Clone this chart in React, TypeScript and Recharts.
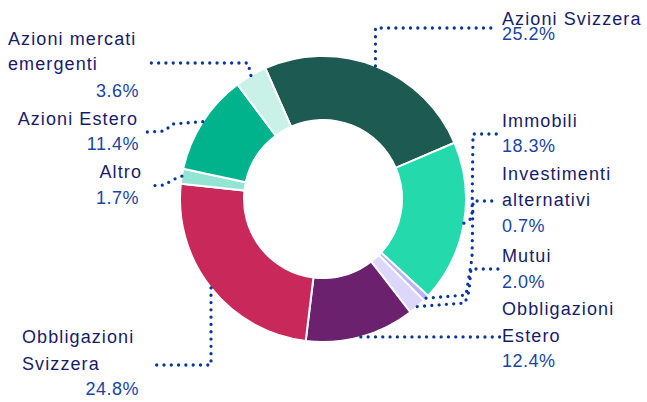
import React from 'react';
import { Cell, Pie, PieChart } from 'recharts';

// Portfolio allocation, clockwise from "Azioni Svizzera"
const categories = [
  'Azioni Svizzera',
  'Immobili',
  'Investimenti alternativi',
  'Mutui',
  'Obbligazioni Estero',
  'Obbligazioni Svizzera',
  'Altro',
  'Azioni Estero',
  'Azioni mercati emergenti',
];
const shares = [25.2, 18.3, 0.7, 2.0, 12.4, 24.8, 1.7, 11.4, 3.6];
const nameLines = [
  ['Azioni Svizzera'],
  ['Immobili'],
  ['Investimenti', 'alternativi'],
  ['Mutui'],
  ['Obbligazioni', 'Estero'],
  ['Obbligazioni', 'Svizzera'],
  ['Altro'],
  ['Azioni Estero'],
  ['Azioni mercati', 'emergenti'],
];
const colors = ['#1d5b52', '#24d9ab', '#b8b4f6', '#ddd8fb', '#6b216e', '#c8285a', '#93e4d3', '#00b38d', '#c9f1e8'];

const data = categories.map((name, i) => ({ name, value: shares[i] }));

// label placement: leader line bends (null x = keep the slice x), text lines
type Pt = [number | null, number];
interface LabelLayout {
  path: Pt[];
  lines: { x: number; y: number; anchor: 'start' | 'end' }[];
  pct: { x: number; y: number; anchor: 'start' | 'end' };
}
const layouts: LabelLayout[] = [
  { path: [[null, 28], [498, 28]], lines: [{ x: 502, y: 25, anchor: 'start' }], pct: { x: 502, y: 40, anchor: 'start' } },
  { path: [[472, 218], [473, 134], [500, 134]], lines: [{ x: 502, y: 127, anchor: 'start' }], pct: { x: 502, y: 152, anchor: 'start' } },
  {
    path: [[466, 295], [472, 258], [473, 201], [498, 201]],
    lines: [{ x: 502, y: 180, anchor: 'start' }, { x: 502, y: 206, anchor: 'start' }],
    pct: { x: 502, y: 232, anchor: 'start' },
  },
  { path: [[465, 303], [469, 291], [471, 269], [500, 269]], lines: [{ x: 502, y: 262, anchor: 'start' }], pct: { x: 502, y: 288, anchor: 'start' } },
  {
    path: [[500, 337]],
    lines: [{ x: 502, y: 315, anchor: 'start' }, { x: 502, y: 342, anchor: 'start' }],
    pct: { x: 502, y: 367, anchor: 'start' },
  },
  {
    path: [[null, 365], [151, 365]],
    lines: [{ x: 22, y: 343, anchor: 'start' }, { x: 22, y: 370, anchor: 'start' }],
    pct: { x: 139, y: 395, anchor: 'end' },
  },
  { path: [[172, 180], [165, 185], [148, 186]], lines: [{ x: 142, y: 178, anchor: 'end' }], pct: { x: 139, y: 204, anchor: 'end' } },
  { path: [[172, 124], [165, 131], [147, 132]], lines: [{ x: 138, y: 125, anchor: 'end' }], pct: { x: 139, y: 150, anchor: 'end' } },
  {
    path: [[248, 63], [147, 63]],
    lines: [{ x: 8, y: 45, anchor: 'start' }, { x: 8, y: 70, anchor: 'start' }],
    pct: { x: 139, y: 97, anchor: 'end' },
  },
];

const RAD = Math.PI / 180;
const FONT = "'Liberation Sans', Arial, sans-serif";

const renderLabel = (props: any) => {
  const { cx, cy, midAngle, outerRadius, index } = props;
  const sx = cx + outerRadius * Math.cos(-midAngle * RAD);
  const sy = cy + outerRadius * Math.sin(-midAngle * RAD);
  const layout = layouts[index];
  const pts = [[sx, sy], ...layout.path.map(([x, y]) => [x === null ? sx : x, y])];
  return (
    <g>
      <polyline
        points={pts.map((p) => p.join(',')).join(' ')}
        fill="none"
        stroke="#0a36a0"
        strokeWidth={3.3}
        strokeLinecap="round"
        strokeLinejoin="round"
        strokeDasharray="0 7.3"
      />
      {nameLines[index].map((line, i) => (
        <text
          key={i}
          x={layout.lines[i].x}
          y={layout.lines[i].y}
          textAnchor={layout.lines[i].anchor}
          fill="#181b6b"
          fontSize={18}
          letterSpacing={1.1}
          fontFamily={FONT}
        >
          {line}
        </text>
      ))}
      <text
        x={layout.pct.x}
        y={layout.pct.y}
        textAnchor={layout.pct.anchor}
        fill="#1a45a3"
        fontSize={18}
        letterSpacing={0.5}
        fontFamily={FONT}
      >
        {shares[index].toFixed(1)}%
      </text>
    </g>
  );
};

const App = () => {
  return (
    <div style={{ position: 'absolute', left: 0, top: 0, width: 647, height: 402, background: '#fff' }}>
      <PieChart width={647} height={402} margin={{ top: 0, right: 0, bottom: 0, left: 0 }}>
        <Pie
          data={data}
          dataKey="value"
          nameKey="name"
          cx={323}
          cy={199}
          innerRadius={79}
          outerRadius={143}
          startAngle={113.8}
          endAngle={-246.2}
          stroke="#ffffff"
          strokeWidth={2}
          label={renderLabel}
          labelLine={false}
          isAnimationActive={false}
        >
          {data.map((entry, index) => (
            <Cell key={`cell-${index}`} fill={colors[index]} />
          ))}
        </Pie>
      </PieChart>
    </div>
  );
};

export default App;
